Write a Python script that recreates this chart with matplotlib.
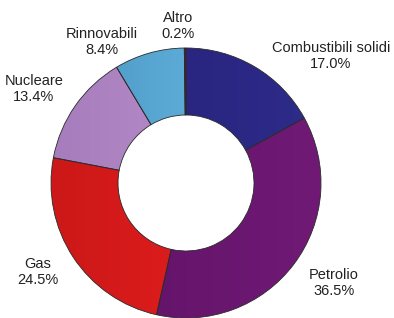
import numpy as np
import matplotlib.pyplot as plt
from matplotlib.colors import LinearSegmentedColormap

categories = ["Combustibili solidi", "Petrolio", "Gas", "Nucleare", "Rinnovabili", "Altro"]
shares = [17.0, 36.5, 24.5, 13.4, 8.4, 0.2]
dark_colors = ["#241f78", "#5e1064", "#cc1818", "#a77cbc", "#4a93c2", "#7a0f2a"]
light_colors = ["#2e2c8a", "#701a76", "#ee2020", "#c298d4", "#6ec4ec", "#9a1838"]

# label positions in pixels (x, y from top)
label_pos = [(331, 56), (334, 283), (38, 272), (34, 89), (102, 42), (178, 26)]

W, H = 394, 318
cx, cy = 186, H - 183
R_OUT, R_IN = 135, 68

fig = plt.figure(figsize=(W / 100, H / 100), dpi=100)
ax = fig.add_axes([0, 0, 1, 1])

wedges, _ = ax.pie(
    shares,
    startangle=90,
    counterclock=False,
    center=(cx, cy),
    radius=R_OUT,
    colors=light_colors,
    wedgeprops=dict(width=R_OUT - R_IN, edgecolor="#2a2a2a", linewidth=0.6),
    frame=True,
)
ax.set_xlim(0, W)
ax.set_ylim(0, H)
ax.set_aspect("equal")
ax.axis("off")

# simple left-to-right shading inside each wedge
grad = np.linspace(0, 1, 256).reshape(1, -1)
grad = np.vstack([grad] * 4)
for w, c0, c1 in zip(wedges, dark_colors, light_colors):
    cmap = LinearSegmentedColormap.from_list("g", [c0, c1])
    im = ax.imshow(grad, cmap=cmap, aspect="auto", interpolation="bilinear",
                   extent=(cx - R_OUT, cx + R_OUT, cy - R_OUT, cy + R_OUT), zorder=w.get_zorder())
    im.set_clip_path(w)
    w.set_facecolor("none")
    w.set_zorder(w.get_zorder() + 0.5)

for name, val, (x, y) in zip(categories, shares, label_pos):
    ax.text(x, H - y, f"{name}\n{val:.1f}%", ha="center", va="center",
            fontsize=10.5, family="Liberation Sans", color="#222222", linespacing=1.15)

fig.savefig("out.png", dpi=100)
